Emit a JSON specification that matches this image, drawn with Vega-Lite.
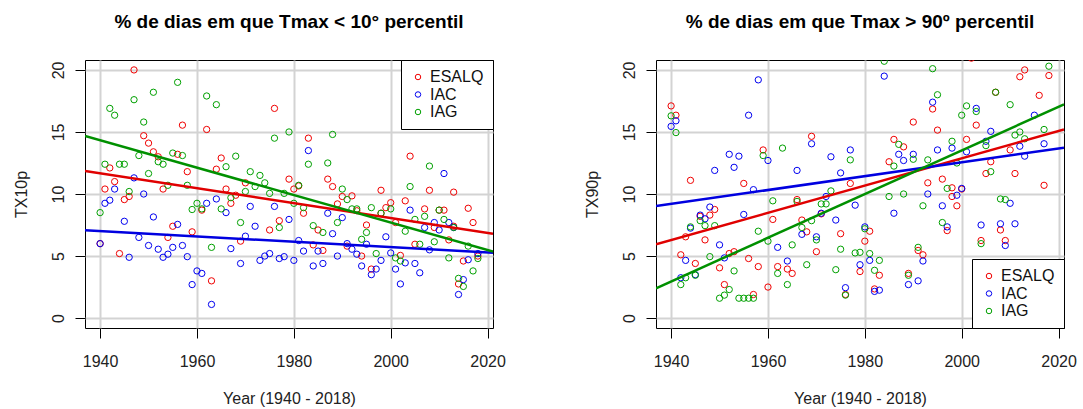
{
  "$schema": "https://vega.github.io/schema/vega-lite/v6.json",
  "autosize": {"type": "pad"},
  "padding": {"left": 12, "top": 12, "right": 5, "bottom": 0},
  "background": "white",
  "bounds": "flush",
  "spacing": 163,
  "config": {
    "font": "Liberation Sans",
    "view": {"stroke": "black", "strokeWidth": 1},
    "title": {"fontSize": 19, "fontWeight": "bold", "color": "black", "font": "Liberation Sans", "anchor": "middle", "baseline": "alphabetic", "offset": 28, "frame": "group"},
    "axisX": {
      "grid": true, "gridColor": "#D3D3D3", "gridWidth": 2, "domain": false,
      "tickColor": "black", "tickSize": 10, "tickWidth": 1, "labelFontSize": 16, "labelColor": "#222", "labelPadding": 15,
      "labelFlush": false, "labelOverlap": false,
      "titleFontSize": 16, "titleFontWeight": "normal", "titleColor": "#222", "titleY": 75, "titleBaseline": "alphabetic"
    },
    "axisY": {
      "grid": true, "gridColor": "#D3D3D3", "gridWidth": 2, "domain": false,
      "tickColor": "black", "tickSize": 10, "tickWidth": 1, "labelFontSize": 16, "labelColor": "#222",
      "labelAngle": 270, "labelAlign": "center", "labelBaseline": "alphabetic", "labelPadding": 12,
      "labelFlush": false, "labelOverlap": false,
      "titleFontSize": 16, "titleFontWeight": "normal", "titleColor": "#222", "titleX": -59, "titleY": 134,
      "titleAngle": 270, "titleAlign": "center", "titleBaseline": "alphabetic"
    },
    "legend": {
      "strokeColor": "black", "fillColor": "white", "padding": 9, "labelFontSize": 16, "labelColor": "#111",
      "symbolSize": 30, "symbolStrokeWidth": 1, "symbolType": "circle", "labelOffset": 4, "rowPadding": 1.5,
      "offset": 0, "cornerRadius": 0, "symbolFillColor": "transparent"
    }
  },
  "datasets": {
    "left": [
      {"year":1940,"value":6.0,"station":"ESALQ"},{"year":1941,"value":10.4,"station":"ESALQ"},{"year":1942,"value":12.1,"station":"ESALQ"},{"year":1943,"value":11.0,"station":"ESALQ"},{"year":1944,"value":5.2,"station":"ESALQ"},{"year":1945,"value":9.55,"station":"ESALQ"},{"year":1946,"value":9.8,"station":"ESALQ"},{"year":1947,"value":20.0,"station":"ESALQ"},{"year":1949,"value":14.7,"station":"ESALQ"},{"year":1950,"value":14.1,"station":"ESALQ"},{"year":1951,"value":13.4,"station":"ESALQ"},{"year":1952,"value":13.0,"station":"ESALQ"},{"year":1953,"value":10.4,"station":"ESALQ"},{"year":1954,"value":6.5,"station":"ESALQ"},{"year":1955,"value":7.4,"station":"ESALQ"},{"year":1956,"value":13.2,"station":"ESALQ"},{"year":1957,"value":15.55,"station":"ESALQ"},{"year":1958,"value":11.8,"station":"ESALQ"},{"year":1959,"value":6.95,"station":"ESALQ"},{"year":1961,"value":8.7,"station":"ESALQ"},{"year":1962,"value":15.2,"station":"ESALQ"},{"year":1963,"value":3.0,"station":"ESALQ"},{"year":1964,"value":12.0,"station":"ESALQ"},{"year":1965,"value":12.9,"station":"ESALQ"},{"year":1966,"value":10.4,"station":"ESALQ"},{"year":1967,"value":9.25,"station":"ESALQ"},{"year":1968,"value":9.9,"station":"ESALQ"},{"year":1969,"value":6.2,"station":"ESALQ"},{"year":1970,"value":10.9,"station":"ESALQ"},{"year":1975,"value":7.1,"station":"ESALQ"},{"year":1976,"value":16.9,"station":"ESALQ"},{"year":1977,"value":7.85,"station":"ESALQ"},{"year":1979,"value":11.2,"station":"ESALQ"},{"year":1980,"value":10.4,"station":"ESALQ"},{"year":1981,"value":10.65,"station":"ESALQ"},{"year":1982,"value":8.45,"station":"ESALQ"},{"year":1983,"value":14.5,"station":"ESALQ"},{"year":1984,"value":5.9,"station":"ESALQ"},{"year":1985,"value":7.1,"station":"ESALQ"},{"year":1986,"value":5.45,"station":"ESALQ"},{"year":1987,"value":11.2,"station":"ESALQ"},{"year":1988,"value":10.6,"station":"ESALQ"},{"year":1989,"value":9.2,"station":"ESALQ"},{"year":1990,"value":9.8,"station":"ESALQ"},{"year":1991,"value":5.8,"station":"ESALQ"},{"year":1992,"value":9.85,"station":"ESALQ"},{"year":1993,"value":8.65,"station":"ESALQ"},{"year":1994,"value":5.0,"station":"ESALQ"},{"year":1995,"value":7.5,"station":"ESALQ"},{"year":1996,"value":3.95,"station":"ESALQ"},{"year":1998,"value":10.3,"station":"ESALQ"},{"year":1998,"value":8.45,"station":"ESALQ"},{"year":1999,"value":8.9,"station":"ESALQ"},{"year":2000,"value":9.3,"station":"ESALQ"},{"year":2001,"value":7.7,"station":"ESALQ"},{"year":2002,"value":5.05,"station":"ESALQ"},{"year":2003,"value":9.45,"station":"ESALQ"},{"year":2004,"value":13.05,"station":"ESALQ"},{"year":2005,"value":5.95,"station":"ESALQ"},{"year":2007,"value":8.8,"station":"ESALQ"},{"year":2008,"value":10.3,"station":"ESALQ"},{"year":2009,"value":7.3,"station":"ESALQ"},{"year":2010,"value":8.7,"station":"ESALQ"},{"year":2011,"value":8.7,"station":"ESALQ"},{"year":2012,"value":6.3,"station":"ESALQ"},{"year":2013,"value":10.15,"station":"ESALQ"},{"year":2013,"value":7.4,"station":"ESALQ"},{"year":2014,"value":2.75,"station":"ESALQ"},{"year":2015,"value":4.6,"station":"ESALQ"},{"year":2016,"value":8.85,"station":"ESALQ"},{"year":2017,"value":7.7,"station":"ESALQ"},{"year":2018,"value":5.0,"station":"ESALQ"},
      {"year":1940,"value":6.0,"station":"IAC"},{"year":1941,"value":9.25,"station":"IAC"},{"year":1942,"value":9.5,"station":"IAC"},{"year":1943,"value":10.4,"station":"IAC"},{"year":1945,"value":7.8,"station":"IAC"},{"year":1946,"value":4.9,"station":"IAC"},{"year":1947,"value":11.3,"station":"IAC"},{"year":1948,"value":6.5,"station":"IAC"},{"year":1949,"value":10.0,"station":"IAC"},{"year":1950,"value":5.85,"station":"IAC"},{"year":1951,"value":8.15,"station":"IAC"},{"year":1952,"value":5.55,"station":"IAC"},{"year":1953,"value":4.9,"station":"IAC"},{"year":1954,"value":5.15,"station":"IAC"},{"year":1955,"value":5.7,"station":"IAC"},{"year":1956,"value":7.55,"station":"IAC"},{"year":1957,"value":5.85,"station":"IAC"},{"year":1958,"value":4.95,"station":"IAC"},{"year":1959,"value":2.7,"station":"IAC"},{"year":1960,"value":3.8,"station":"IAC"},{"year":1961,"value":3.6,"station":"IAC"},{"year":1962,"value":9.25,"station":"IAC"},{"year":1963,"value":1.1,"station":"IAC"},{"year":1964,"value":9.6,"station":"IAC"},{"year":1966,"value":8.5,"station":"IAC"},{"year":1967,"value":5.6,"station":"IAC"},{"year":1969,"value":4.4,"station":"IAC"},{"year":1970,"value":6.6,"station":"IAC"},{"year":1971,"value":9.0,"station":"IAC"},{"year":1972,"value":7.4,"station":"IAC"},{"year":1973,"value":4.65,"station":"IAC"},{"year":1974,"value":5.0,"station":"IAC"},{"year":1975,"value":5.2,"station":"IAC"},{"year":1976,"value":9.0,"station":"IAC"},{"year":1977,"value":4.8,"station":"IAC"},{"year":1978,"value":4.95,"station":"IAC"},{"year":1979,"value":7.95,"station":"IAC"},{"year":1980,"value":4.65,"station":"IAC"},{"year":1981,"value":6.25,"station":"IAC"},{"year":1982,"value":5.4,"station":"IAC"},{"year":1983,"value":13.5,"station":"IAC"},{"year":1984,"value":4.2,"station":"IAC"},{"year":1985,"value":5.4,"station":"IAC"},{"year":1986,"value":4.4,"station":"IAC"},{"year":1987,"value":8.45,"station":"IAC"},{"year":1988,"value":6.8,"station":"IAC"},{"year":1989,"value":5.0,"station":"IAC"},{"year":1990,"value":8.1,"station":"IAC"},{"year":1991,"value":6.0,"station":"IAC"},{"year":1992,"value":5.55,"station":"IAC"},{"year":1993,"value":5.15,"station":"IAC"},{"year":1994,"value":4.2,"station":"IAC"},{"year":1995,"value":5.95,"station":"IAC"},{"year":1996,"value":3.5,"station":"IAC"},{"year":1997,"value":3.95,"station":"IAC"},{"year":1998,"value":4.65,"station":"IAC"},{"year":1999,"value":6.55,"station":"IAC"},{"year":2000,"value":5.25,"station":"IAC"},{"year":2001,"value":3.95,"station":"IAC"},{"year":2002,"value":2.75,"station":"IAC"},{"year":2003,"value":4.45,"station":"IAC"},{"year":2004,"value":8.7,"station":"IAC"},{"year":2005,"value":4.4,"station":"IAC"},{"year":2006,"value":3.65,"station":"IAC"},{"year":2007,"value":7.3,"station":"IAC"},{"year":2008,"value":5.5,"station":"IAC"},{"year":2009,"value":7.7,"station":"IAC"},{"year":2010,"value":7.1,"station":"IAC"},{"year":2011,"value":11.65,"station":"IAC"},{"year":2012,"value":7.7,"station":"IAC"},{"year":2013,"value":7.3,"station":"IAC"},{"year":2014,"value":1.9,"station":"IAC"},{"year":2015,"value":3.1,"station":"IAC"},{"year":2016,"value":4.7,"station":"IAC"},{"year":2018,"value":5.2,"station":"IAC"},
      {"year":1940,"value":8.5,"station":"IAG"},{"year":1941,"value":12.4,"station":"IAG"},{"year":1942,"value":16.9,"station":"IAG"},{"year":1943,"value":16.35,"station":"IAG"},{"year":1944,"value":12.4,"station":"IAG"},{"year":1945,"value":12.4,"station":"IAG"},{"year":1946,"value":10.2,"station":"IAG"},{"year":1947,"value":17.6,"station":"IAG"},{"year":1948,"value":13.1,"station":"IAG"},{"year":1949,"value":15.8,"station":"IAG"},{"year":1950,"value":11.65,"station":"IAG"},{"year":1951,"value":18.2,"station":"IAG"},{"year":1952,"value":12.6,"station":"IAG"},{"year":1953,"value":12.4,"station":"IAG"},{"year":1954,"value":10.7,"station":"IAG"},{"year":1955,"value":13.3,"station":"IAG"},{"year":1956,"value":19.0,"station":"IAG"},{"year":1957,"value":13.1,"station":"IAG"},{"year":1958,"value":10.7,"station":"IAG"},{"year":1959,"value":8.75,"station":"IAG"},{"year":1960,"value":9.25,"station":"IAG"},{"year":1961,"value":8.8,"station":"IAG"},{"year":1962,"value":17.9,"station":"IAG"},{"year":1963,"value":5.7,"station":"IAG"},{"year":1964,"value":17.2,"station":"IAG"},{"year":1965,"value":8.8,"station":"IAG"},{"year":1966,"value":12.2,"station":"IAG"},{"year":1967,"value":9.7,"station":"IAG"},{"year":1968,"value":13.05,"station":"IAG"},{"year":1969,"value":7.7,"station":"IAG"},{"year":1970,"value":10.2,"station":"IAG"},{"year":1971,"value":11.8,"station":"IAG"},{"year":1972,"value":10.6,"station":"IAG"},{"year":1973,"value":11.5,"station":"IAG"},{"year":1974,"value":10.9,"station":"IAG"},{"year":1975,"value":10.05,"station":"IAG"},{"year":1976,"value":14.5,"station":"IAG"},{"year":1977,"value":7.3,"station":"IAG"},{"year":1978,"value":10.05,"station":"IAG"},{"year":1979,"value":15.0,"station":"IAG"},{"year":1980,"value":9.25,"station":"IAG"},{"year":1981,"value":10.7,"station":"IAG"},{"year":1982,"value":8.9,"station":"IAG"},{"year":1983,"value":12.4,"station":"IAG"},{"year":1984,"value":7.45,"station":"IAG"},{"year":1986,"value":6.9,"station":"IAG"},{"year":1987,"value":12.5,"station":"IAG"},{"year":1988,"value":14.8,"station":"IAG"},{"year":1989,"value":7.7,"station":"IAG"},{"year":1990,"value":10.4,"station":"IAG"},{"year":1991,"value":9.55,"station":"IAG"},{"year":1992,"value":8.8,"station":"IAG"},{"year":1993,"value":8.8,"station":"IAG"},{"year":1994,"value":6.35,"station":"IAG"},{"year":1995,"value":6.9,"station":"IAG"},{"year":1996,"value":8.9,"station":"IAG"},{"year":1997,"value":5.2,"station":"IAG"},{"year":1998,"value":8.45,"station":"IAG"},{"year":2000,"value":8.8,"station":"IAG"},{"year":2001,"value":4.85,"station":"IAG"},{"year":2002,"value":4.6,"station":"IAG"},{"year":2003,"value":7.0,"station":"IAG"},{"year":2004,"value":10.6,"station":"IAG"},{"year":2005,"value":7.95,"station":"IAG"},{"year":2006,"value":5.95,"station":"IAG"},{"year":2007,"value":8.2,"station":"IAG"},{"year":2008,"value":12.25,"station":"IAG"},{"year":2009,"value":6.15,"station":"IAG"},{"year":2010,"value":8.7,"station":"IAG"},{"year":2011,"value":7.95,"station":"IAG"},{"year":2012,"value":4.85,"station":"IAG"},{"year":2013,"value":7.3,"station":"IAG"},{"year":2014,"value":3.2,"station":"IAG"},{"year":2015,"value":2.55,"station":"IAG"},{"year":2016,"value":5.8,"station":"IAG"},{"year":2017,"value":3.8,"station":"IAG"},{"year":2018,"value":4.8,"station":"IAG"}
    ],
    "leftLines": [
      {"year":1936.88,"value":11.85,"station":"ESALQ"},{"year":2021.12,"value":6.8,"station":"ESALQ"},
      {"year":1936.88,"value":7.07,"station":"IAC"},{"year":2021.12,"value":5.27,"station":"IAC"},
      {"year":1936.88,"value":14.68,"station":"IAG"},{"year":2021.12,"value":5.37,"station":"IAG"}
    ],
    "right": [
      {"year":1940,"value":17.1,"station":"ESALQ"},{"year":1941,"value":16.35,"station":"ESALQ"},{"year":1942,"value":5.1,"station":"ESALQ"},{"year":1943,"value":6.55,"station":"ESALQ"},{"year":1944,"value":11.1,"station":"ESALQ"},{"year":1945,"value":4.4,"station":"ESALQ"},{"year":1946,"value":8.2,"station":"ESALQ"},{"year":1947,"value":6.3,"station":"ESALQ"},{"year":1948,"value":8.3,"station":"ESALQ"},{"year":1949,"value":8.75,"station":"ESALQ"},{"year":1950,"value":4.05,"station":"ESALQ"},{"year":1951,"value":2.7,"station":"ESALQ"},{"year":1952,"value":5.2,"station":"ESALQ"},{"year":1953,"value":5.35,"station":"ESALQ"},{"year":1955,"value":10.85,"station":"ESALQ"},{"year":1956,"value":4.8,"station":"ESALQ"},{"year":1957,"value":1.9,"station":"ESALQ"},{"year":1958,"value":4.15,"station":"ESALQ"},{"year":1959,"value":13.55,"station":"ESALQ"},{"year":1960,"value":2.5,"station":"ESALQ"},{"year":1961,"value":7.95,"station":"ESALQ"},{"year":1962,"value":4.15,"station":"ESALQ"},{"year":1964,"value":3.95,"station":"ESALQ"},{"year":1965,"value":3.6,"station":"ESALQ"},{"year":1966,"value":9.55,"station":"ESALQ"},{"year":1967,"value":7.9,"station":"ESALQ"},{"year":1968,"value":6.95,"station":"ESALQ"},{"year":1969,"value":14.65,"station":"ESALQ"},{"year":1970,"value":5.35,"station":"ESALQ"},{"year":1971,"value":8.4,"station":"ESALQ"},{"year":1975,"value":6.8,"station":"ESALQ"},{"year":1976,"value":1.9,"station":"ESALQ"},{"year":1977,"value":10.85,"station":"ESALQ"},{"year":1979,"value":3.75,"station":"ESALQ"},{"year":1980,"value":6.2,"station":"ESALQ"},{"year":1981,"value":7.0,"station":"ESALQ"},{"year":1982,"value":2.35,"station":"ESALQ"},{"year":1983,"value":3.45,"station":"ESALQ"},{"year":1985,"value":12.6,"station":"ESALQ"},{"year":1986,"value":14.4,"station":"ESALQ"},{"year":1988,"value":13.8,"station":"ESALQ"},{"year":1989,"value":3.6,"station":"ESALQ"},{"year":1990,"value":15.8,"station":"ESALQ"},{"year":1991,"value":5.45,"station":"ESALQ"},{"year":1992,"value":5.1,"station":"ESALQ"},{"year":1993,"value":10.9,"station":"ESALQ"},{"year":1994,"value":16.85,"station":"ESALQ"},{"year":1995,"value":15.15,"station":"ESALQ"},{"year":1996,"value":11.2,"station":"ESALQ"},{"year":1997,"value":7.05,"station":"ESALQ"},{"year":1998,"value":10.5,"station":"ESALQ"},{"year":1998,"value":9.8,"station":"ESALQ"},{"year":1999,"value":9.05,"station":"ESALQ"},{"year":2000,"value":10.4,"station":"ESALQ"},{"year":2001,"value":14.4,"station":"ESALQ"},{"year":2002,"value":20.95,"station":"ESALQ"},{"year":2003,"value":15.55,"station":"ESALQ"},{"year":2004,"value":6.25,"station":"ESALQ"},{"year":2005,"value":11.65,"station":"ESALQ"},{"year":2006,"value":12.6,"station":"ESALQ"},{"year":2007,"value":18.2,"station":"ESALQ"},{"year":2008,"value":7.1,"station":"ESALQ"},{"year":2009,"value":6.25,"station":"ESALQ"},{"year":2010,"value":13.55,"station":"ESALQ"},{"year":2011,"value":11.65,"station":"ESALQ"},{"year":2012,"value":19.45,"station":"ESALQ"},{"year":2013,"value":20.0,"station":"ESALQ"},{"year":2016,"value":17.95,"station":"ESALQ"},{"year":2017,"value":10.7,"station":"ESALQ"},{"year":2018,"value":19.55,"station":"ESALQ"},
      {"year":1940,"value":15.45,"station":"IAC"},{"year":1941,"value":15.9,"station":"IAC"},{"year":1942,"value":3.25,"station":"IAC"},{"year":1943,"value":4.65,"station":"IAC"},{"year":1944,"value":7.25,"station":"IAC"},{"year":1945,"value":3.5,"station":"IAC"},{"year":1946,"value":8.3,"station":"IAC"},{"year":1947,"value":8.0,"station":"IAC"},{"year":1948,"value":8.95,"station":"IAC"},{"year":1949,"value":11.9,"station":"IAC"},{"year":1950,"value":5.9,"station":"IAC"},{"year":1951,"value":4.85,"station":"IAC"},{"year":1952,"value":13.2,"station":"IAC"},{"year":1953,"value":12.15,"station":"IAC"},{"year":1954,"value":13.05,"station":"IAC"},{"year":1955,"value":8.35,"station":"IAC"},{"year":1956,"value":16.35,"station":"IAC"},{"year":1957,"value":10.35,"station":"IAC"},{"year":1958,"value":19.2,"station":"IAC"},{"year":1960,"value":12.7,"station":"IAC"},{"year":1962,"value":5.7,"station":"IAC"},{"year":1964,"value":4.6,"station":"IAC"},{"year":1966,"value":11.9,"station":"IAC"},{"year":1967,"value":6.75,"station":"IAC"},{"year":1969,"value":14.05,"station":"IAC"},{"year":1970,"value":6.55,"station":"IAC"},{"year":1971,"value":8.45,"station":"IAC"},{"year":1972,"value":9.8,"station":"IAC"},{"year":1973,"value":13.0,"station":"IAC"},{"year":1974,"value":7.9,"station":"IAC"},{"year":1975,"value":11.7,"station":"IAC"},{"year":1976,"value":2.45,"station":"IAC"},{"year":1977,"value":13.55,"station":"IAC"},{"year":1978,"value":9.1,"station":"IAC"},{"year":1979,"value":4.3,"station":"IAC"},{"year":1980,"value":7.35,"station":"IAC"},{"year":1981,"value":4.65,"station":"IAC"},{"year":1982,"value":2.15,"station":"IAC"},{"year":1983,"value":2.25,"station":"IAC"},{"year":1984,"value":19.5,"station":"IAC"},{"year":1986,"value":8.45,"station":"IAC"},{"year":1987,"value":13.2,"station":"IAC"},{"year":1988,"value":12.7,"station":"IAC"},{"year":1989,"value":2.7,"station":"IAC"},{"year":1990,"value":13.2,"station":"IAC"},{"year":1991,"value":3.0,"station":"IAC"},{"year":1992,"value":4.6,"station":"IAC"},{"year":1993,"value":10.0,"station":"IAC"},{"year":1994,"value":17.4,"station":"IAC"},{"year":1995,"value":13.55,"station":"IAC"},{"year":1996,"value":9.05,"station":"IAC"},{"year":1997,"value":7.35,"station":"IAC"},{"year":1998,"value":13.7,"station":"IAC"},{"year":1999,"value":9.9,"station":"IAC"},{"year":2000,"value":10.45,"station":"IAC"},{"year":2001,"value":13.4,"station":"IAC"},{"year":2003,"value":16.9,"station":"IAC"},{"year":2004,"value":7.5,"station":"IAC"},{"year":2005,"value":14.25,"station":"IAC"},{"year":2006,"value":15.05,"station":"IAC"},{"year":2008,"value":7.6,"station":"IAC"},{"year":2009,"value":5.85,"station":"IAC"},{"year":2010,"value":9.25,"station":"IAC"},{"year":2011,"value":7.6,"station":"IAC"},{"year":2012,"value":13.85,"station":"IAC"},{"year":2013,"value":13.05,"station":"IAC"},{"year":2015,"value":16.35,"station":"IAC"},{"year":2017,"value":14.05,"station":"IAC"},
      {"year":1940,"value":16.3,"station":"IAG"},{"year":1941,"value":14.95,"station":"IAG"},{"year":1942,"value":2.7,"station":"IAG"},{"year":1943,"value":3.25,"station":"IAG"},{"year":1944,"value":7.35,"station":"IAG"},{"year":1945,"value":3.45,"station":"IAG"},{"year":1946,"value":7.85,"station":"IAG"},{"year":1947,"value":7.45,"station":"IAG"},{"year":1948,"value":4.95,"station":"IAG"},{"year":1949,"value":7.45,"station":"IAG"},{"year":1950,"value":1.6,"station":"IAG"},{"year":1951,"value":1.85,"station":"IAG"},{"year":1952,"value":2.3,"station":"IAG"},{"year":1953,"value":3.8,"station":"IAG"},{"year":1954,"value":1.6,"station":"IAG"},{"year":1955,"value":1.6,"station":"IAG"},{"year":1956,"value":1.6,"station":"IAG"},{"year":1957,"value":1.6,"station":"IAG"},{"year":1958,"value":7.0,"station":"IAG"},{"year":1959,"value":13.1,"station":"IAG"},{"year":1960,"value":6.2,"station":"IAG"},{"year":1961,"value":9.45,"station":"IAG"},{"year":1962,"value":3.6,"station":"IAG"},{"year":1963,"value":13.7,"station":"IAG"},{"year":1964,"value":2.7,"station":"IAG"},{"year":1965,"value":5.9,"station":"IAG"},{"year":1966,"value":9.4,"station":"IAG"},{"year":1967,"value":7.3,"station":"IAG"},{"year":1968,"value":4.3,"station":"IAG"},{"year":1969,"value":7.85,"station":"IAG"},{"year":1970,"value":6.3,"station":"IAG"},{"year":1971,"value":9.2,"station":"IAG"},{"year":1972,"value":9.2,"station":"IAG"},{"year":1973,"value":10.25,"station":"IAG"},{"year":1974,"value":3.9,"station":"IAG"},{"year":1975,"value":5.55,"station":"IAG"},{"year":1976,"value":1.85,"station":"IAG"},{"year":1977,"value":12.75,"station":"IAG"},{"year":1978,"value":5.25,"station":"IAG"},{"year":1979,"value":5.3,"station":"IAG"},{"year":1980,"value":7.2,"station":"IAG"},{"year":1981,"value":5.2,"station":"IAG"},{"year":1982,"value":3.85,"station":"IAG"},{"year":1983,"value":4.65,"station":"IAG"},{"year":1984,"value":20.7,"station":"IAG"},{"year":1985,"value":9.8,"station":"IAG"},{"year":1986,"value":12.25,"station":"IAG"},{"year":1987,"value":14.0,"station":"IAG"},{"year":1988,"value":10.0,"station":"IAG"},{"year":1989,"value":3.45,"station":"IAG"},{"year":1990,"value":12.8,"station":"IAG"},{"year":1991,"value":5.7,"station":"IAG"},{"year":1992,"value":9.05,"station":"IAG"},{"year":1993,"value":12.75,"station":"IAG"},{"year":1994,"value":20.1,"station":"IAG"},{"year":1995,"value":18.0,"station":"IAG"},{"year":1996,"value":7.7,"station":"IAG"},{"year":1997,"value":10.45,"station":"IAG"},{"year":1998,"value":14.25,"station":"IAG"},{"year":1999,"value":12.5,"station":"IAG"},{"year":2000,"value":16.35,"station":"IAG"},{"year":2001,"value":17.1,"station":"IAG"},{"year":2003,"value":16.65,"station":"IAG"},{"year":2004,"value":6.0,"station":"IAG"},{"year":2005,"value":13.9,"station":"IAG"},{"year":2006,"value":11.8,"station":"IAG"},{"year":2007,"value":18.2,"station":"IAG"},{"year":2008,"value":9.6,"station":"IAG"},{"year":2009,"value":9.55,"station":"IAG"},{"year":2010,"value":17.2,"station":"IAG"},{"year":2011,"value":14.75,"station":"IAG"},{"year":2012,"value":15.0,"station":"IAG"},{"year":2013,"value":14.45,"station":"IAG"},{"year":2017,"value":15.2,"station":"IAG"},{"year":2018,"value":20.3,"station":"IAG"}
    ],
    "rightLines": [
      {"year":1936.88,"value":5.94,"station":"ESALQ"},{"year":2021.12,"value":15.2,"station":"ESALQ"},
      {"year":1936.88,"value":9.03,"station":"IAC"},{"year":2021.12,"value":13.73,"station":"IAC"},
      {"year":1936.88,"value":2.4,"station":"IAG"},{"year":2021.12,"value":17.23,"station":"IAG"}
    ]
  },
  "resolve": {"legend": {"color": "independent"}},
  "hconcat": [
    {
      "width": 408, "height": 268,
      "title": {"text": "% de dias em que Tmax < 10° percentil"},
      "encoding": {
        "x": {"field": "year", "type": "quantitative", "scale": {"domain": [1936.88, 2021.12], "nice": false, "zero": false}, "axis": {"title": "Year (1940 - 2018)", "values": [1940, 1960, 1980, 2000, 2020], "format": "d"}},
        "y": {"field": "value", "type": "quantitative", "scale": {"domain": [-0.8, 20.8], "nice": false, "zero": false}, "axis": {"title": "TX10p", "values": [0, 5, 10, 15, 20]}}
      },
      "layer": [
        {
          "data": {"name": "left"},
          "mark": {"type": "point", "shape": "circle", "filled": false, "size": 40, "strokeWidth": 1, "opacity": 1, "clip": true},
          "encoding": {
            "color": {"field": "station", "type": "nominal", "scale": {"domain": ["ESALQ", "IAC", "IAG"], "range": ["#F00000", "#0000F0", "#00A000"]}, "legend": {"orient": "top-right", "title": null}}
          }
        },
        {
          "data": {"name": "leftLines"},
          "mark": {"type": "line", "strokeWidth": 2.5, "clip": true},
          "encoding": {
            "stroke": {"field": "station", "type": "nominal", "scale": {"domain": ["ESALQ", "IAC", "IAG"], "range": ["#E00000", "#0000E0", "#009000"]}, "legend": null}
          }
        }
      ]
    },
    {
      "width": 408, "height": 268,
      "title": {"text": "% de dias em que Tmax > 90º percentil"},
      "encoding": {
        "x": {"field": "year", "type": "quantitative", "scale": {"domain": [1936.88, 2021.12], "nice": false, "zero": false}, "axis": {"title": "Year (1940 - 2018)", "values": [1940, 1960, 1980, 2000, 2020], "format": "d"}},
        "y": {"field": "value", "type": "quantitative", "scale": {"domain": [-0.8, 20.8], "nice": false, "zero": false}, "axis": {"title": "TX90p", "values": [0, 5, 10, 15, 20]}}
      },
      "layer": [
        {
          "data": {"name": "right"},
          "mark": {"type": "point", "shape": "circle", "filled": false, "size": 40, "strokeWidth": 1, "opacity": 1, "clip": true},
          "encoding": {
            "color": {"field": "station", "type": "nominal", "scale": {"domain": ["ESALQ", "IAC", "IAG"], "range": ["#F00000", "#0000F0", "#00A000"]}, "legend": {"orient": "bottom-right", "title": null}}
          }
        },
        {
          "data": {"name": "rightLines"},
          "mark": {"type": "line", "strokeWidth": 2.5, "clip": true},
          "encoding": {
            "stroke": {"field": "station", "type": "nominal", "scale": {"domain": ["ESALQ", "IAC", "IAG"], "range": ["#E00000", "#0000E0", "#009000"]}, "legend": null}
          }
        }
      ]
    }
  ]
}
